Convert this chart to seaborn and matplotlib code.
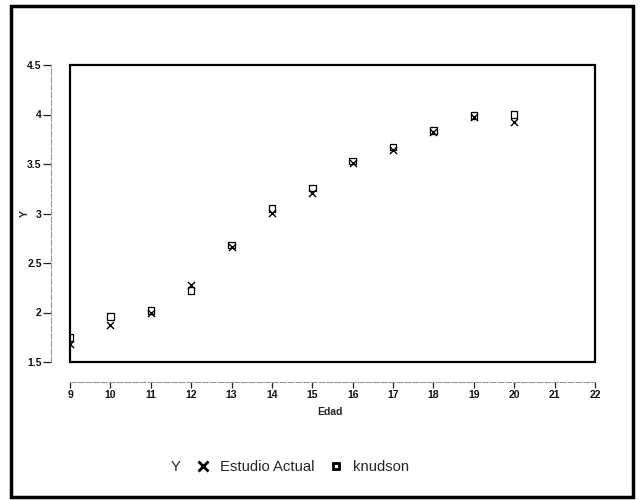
import matplotlib
matplotlib.use("Agg")
import matplotlib.pyplot as plt
from matplotlib.patches import Rectangle
from matplotlib.lines import Line2D
import seaborn as sns
import pandas as pd

# Edad (years) and mean Y for each study
edad = [9, 10, 11, 12, 13, 14, 15, 16, 17, 18, 19, 20]
estudio_actual = [1.68, 1.87, 1.99, 2.28, 2.66, 3.01, 3.21, 3.51, 3.64, 3.82, 3.97, 3.92]
knudson = [1.75, 1.96, 2.02, 2.22, 2.68, 3.05, 3.26, 3.53, 3.67, 3.84, 3.99, 4.00]

x_ticks = list(range(9, 23))
y_ticks = [1.5, 2, 2.5, 3, 3.5, 4, 4.5]
y_tick_labels = ["1.5", "2", "2.5", "3", "3.5", "4", "4.5"]

df = pd.DataFrame({"Edad": edad, "Estudio Actual": estudio_actual, "knudson": knudson})

sns.set_theme(style="white")
plt.rcParams["font.family"] = ["Liberation Sans", "DejaVu Sans"]
# axis text is set in bold; the legend row overrides this below
plt.rcParams["font.weight"] = "bold"
plt.rcParams["axes.labelweight"] = "bold"
plt.rcParams["xtick.labelsize"] = 7.5
plt.rcParams["ytick.labelsize"] = 7.5

fig = plt.figure(figsize=(6.4, 5.0), dpi=100)
W, H = 640, 500
ax = fig.add_axes([70 / W, 1 - 362 / H, 525 / W, 297 / H])

sns.scatterplot(data=df, x="Edad", y="knudson", marker="s", s=22,
                facecolors="none", edgecolor="black", linewidth=0.9, ax=ax, zorder=3)
sns.scatterplot(data=df, x="Edad", y="Estudio Actual", marker="x", s=26,
                color="black", linewidth=1.0, ax=ax, zorder=4)

ax.set_xlim(9, 22)
ax.set_ylim(1.5, 4.5)
ax.set_xticks(x_ticks)
ax.set_xticklabels([str(t) for t in x_ticks])
ax.set_yticks(y_ticks)
ax.set_yticklabels(y_tick_labels)
ax.tick_params(axis="both", which="major", labelsize=7.5, width=0.9,
               color="#222222", direction="out", labelcolor="#111111")
ax.tick_params(axis="y", length=5.5, pad=1.2)
ax.tick_params(axis="x", length=4.5, pad=1.5)
ax.tick_params(axis="both", bottom=True, left=True)

# data frame box
ax.add_patch(Rectangle((0, 0), 1, 1, transform=ax.transAxes, fill=False,
                       edgecolor="black", linewidth=1.6, zorder=5, clip_on=False))

# offset dashed axis lines
for side in ("top", "right"):
    ax.spines[side].set_visible(False)
ax.spines["left"].set_position(("outward", 13.7))
ax.spines["bottom"].set_position(("outward", 14.4))
for side in ("left", "bottom"):
    ax.spines[side].set_color("#999999")
    ax.spines[side].set_linewidth(0.8)
    ax.spines[side].set_linestyle((0, (5, 2)))

ax.set_xlabel("Edad", fontsize=7.5, fontweight="bold")
ax.set_ylabel("Y", fontsize=7.5, fontweight="bold")
ax.xaxis.set_label_coords((330 - 70) / 525, -(407 - 362) / 297)
ax.yaxis.set_label_coords((30 - 70) / 525, 0.5)

# legend row below the plot
fig.text(176 / W, 1 - 467 / H, "Y", fontsize=10.7, fontweight="normal",
         ha="center", va="center")
handles = [
    Line2D([], [], linestyle="none", marker="x", color="black",
           markersize=6.5, markeredgewidth=2.0),
    Line2D([], [], linestyle="none", marker="s", markerfacecolor="none",
           markeredgecolor="black", markersize=5, markeredgewidth=2.0),
]
fig.legend(handles, ["Estudio Actual", "knudson"], loc="center",
           bbox_to_anchor=(303 / W, 1 - 467 / H), ncol=2, frameon=False,
           prop={"size": 10.7, "weight": "normal"},
           handlelength=0.8, handletextpad=0.75, columnspacing=1.0)

# outer border of the figure
fig.patches.append(Rectangle((11 / W, 3 / H), 622 / W, 491 / H,
                             transform=fig.transFigure, fill=False,
                             edgecolor="black", linewidth=2.5))

fig.savefig("out.png", dpi=100, facecolor="white")
